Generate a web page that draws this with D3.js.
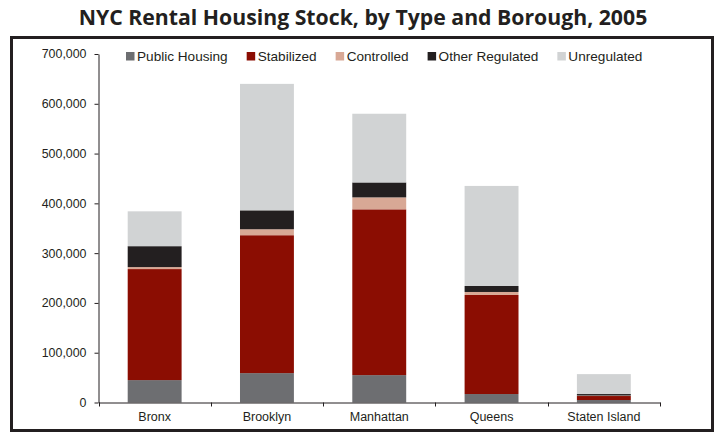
<!DOCTYPE html>
<html>
<head>
<meta charset="utf-8">
<script src="https://cdn.jsdelivr.net/npm/d3@7"></script>
<style>
  body { margin: 0; background: #fff; }
  svg text { fill: #231f20; }
</style>
</head>
<body>
<svg id="chart" width="720" height="435"></svg>
<script>
// MARK: Data.

const boroughs       = ['Bronx', 'Brooklyn', 'Manhattan', 'Queens', 'Staten Island']
const seriesNames    = ['Public Housing', 'Stabilized', 'Controlled', 'Other Regulated', 'Unregulated']
const publicHousing  = [45000, 59000, 55000, 17000, 5000]
const stabilized     = [223000, 277000, 333000, 199000, 8000]
const controlled     = [4000, 12000, 24000, 6000, 1000]
const otherRegulated = [42000, 38000, 30000, 12000, 3000]
const unregulated    = [70000, 254000, 138000, 201000, 40000]
const yTicks         = [0, 100000, 200000, 300000, 400000, 500000, 600000, 700000]

// MARK: Styling.

const COLORS    = ['#6d6e71', '#8b0d02', '#d8a895', '#231f20', '#d1d3d4']
const INK       = '#231f20'
const SANS      = '"Liberation Sans", Arial, sans-serif'
const TITLE_W   = 569   // width the title spans in the original

const svg = d3.select('#chart')

// Flatten the series into rows d3.stack can eat.
const seriesValues = [publicHousing, stabilized, controlled, otherRegulated, unregulated]
const rows = boroughs.map((b, i) => {
  const row = { borough: b }
  seriesNames.forEach((s, k) => { row[s] = seriesValues[k][i] })
  return row
})
const stacked = d3.stack().keys(seriesNames)(rows)

// MARK: Frame + title.

svg.append('rect')
  .attr('x', 11.5).attr('y', 37.5)
  .attr('width', 701).attr('height', 393)
  .attr('fill', 'none')
  .attr('stroke', INK)
  .attr('stroke-width', 3)

const title = svg.append('text')
  .attr('x', 363).attr('y', 25)
  .attr('text-anchor', 'middle')
  .style('font-family', '"Open Sans", "Noto Sans", sans-serif')
  .style('font-weight', 700)
  .style('font-size', '22px')
  .text('NYC Rental Housing Stock, by Type and Borough, 2005')
// Shrink/grow the font so the title spans about what it does in the original.
const tw = title.node().getComputedTextLength()
title.style('font-size', `${22 * TITLE_W / tw}px`)

// MARK: Scales.

const x = d3.scaleBand()
  .domain(boroughs)
  .range([98.5, 660])
  .paddingInner(0.52)
  .paddingOuter(0.26)

const y = d3.scaleLinear()
  .domain([0, 700000])
  .range([402.5, 54])

// MARK: Bars.

svg.append('g').selectAll('g')
  .data(stacked).enter()
  .append('g')
  .attr('fill', (d, i) => COLORS[i])
  .selectAll('rect')
  .data((d) => d).enter()
  .append('rect')
  .attr('x'     , (d) => x(d.data.borough))
  .attr('width' , x.bandwidth())
  .attr('y'     , (d) => y(d[1]))
  .attr('height', (d) => y(d[0]) - y(d[1]))

// MARK: Axes.

const yAxis = svg.append('g')
  .attr('transform', 'translate(98.5,0)')
  .call(d3.axisLeft(y)
    .tickValues(yTicks)
    .tickFormat(d3.format(','))
    .tickSize(4)
    .tickSizeOuter(0)
    .tickPadding(8))
yAxis.selectAll('path, line').attr('stroke', INK)
yAxis.selectAll('text')
  .style('font-family', SANS)
  .style('font-size', '12.4px')
  .attr('fill', INK)

const xAxis = svg.append('g')
  .attr('transform', `translate(0,${y(0)})`)
  .call(d3.axisBottom(x).tickSize(0).tickSizeOuter(0).tickPadding(10))
xAxis.select('path').attr('stroke', INK)
xAxis.selectAll('text')
  .style('font-family', SANS)
  .style('font-size', '12.5px')
  .attr('fill', INK)

// Tick marks sit between boroughs, not under them.
const boundaries = d3.range(boroughs.length + 1).map((i) => x.range()[0] + i * x.step())
xAxis.selectAll('.boundary')
  .data(boundaries).enter()
  .append('line')
  .attr('class', 'boundary')
  .attr('x1', (d) => Math.round(d) + 0.5)
  .attr('x2', (d) => Math.round(d) + 0.5)
  .attr('y1', 0).attr('y2', 4)
  .attr('stroke', INK)

// MARK: Legend.

const legend = svg.append('g').attr('transform', 'translate(126,52)')
let cursor = 0
seriesNames.forEach((name, i) => {
  const item = legend.append('g').attr('transform', `translate(${cursor},0)`)
  item.append('rect')
    .attr('width', 8.5).attr('height', 8.5)
    .attr('fill', COLORS[i])
  const label = item.append('text')
    .attr('x', 11).attr('y', 9.3)
    .style('font-family', SANS)
    .style('font-size', '13.6px')
    .text(name)
  cursor += 11 + label.node().getComputedTextLength() + 19
})
</script>
</body>
</html>
